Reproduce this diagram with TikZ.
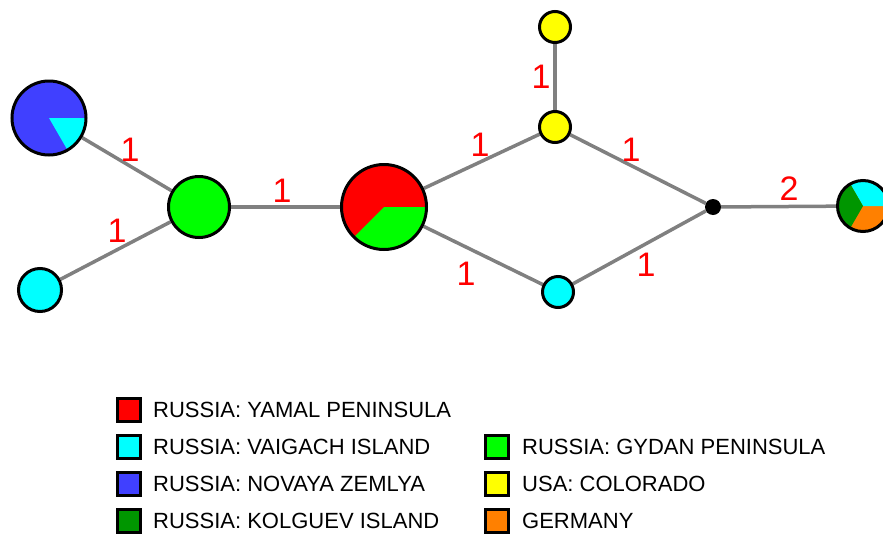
\documentclass[tikz,border=0pt]{standalone}
\usepackage{fontspec}
\setmainfont{Liberation Sans}
\usetikzlibrary{backgrounds}
\definecolor{cRed}{RGB}{255,0,0}
\definecolor{cCyan}{RGB}{0,255,255}
\definecolor{cBlue}{RGB}{64,64,255}
\definecolor{cGreen}{RGB}{0,255,0}
\definecolor{cDGreen}{RGB}{0,150,0}
\definecolor{cYellow}{RGB}{255,255,0}
\definecolor{cOrange}{RGB}{255,128,0}
\definecolor{cEdge}{RGB}{128,128,128}
\newcommand{\pieslice}[3]{\fill[#1] (path picture bounding box.center) -- ++(#2:80) arc[start angle=#2, end angle=#3, radius=80] -- cycle;}
\begin{document}
\begin{tikzpicture}[x=1pt,y=1pt,
  hap/.style={circle, draw=black, line width=3pt, inner sep=0pt},
  edge/.style={draw=cEdge, line width=3.5pt},
  lbl/.style={text=cRed, font=\fontsize{34}{34}\selectfont, inner sep=0pt},
  legbox/.style={draw=black, line width=3pt, minimum size=23pt, inner sep=0pt},
  legtext/.style={anchor=west, inner sep=0pt, font=\fontsize{22}{24}\selectfont}]
\useasboundingbox (0,0) rectangle (883,-533);
% haplotype nodes
\node[hap, fill=cBlue, minimum size=74pt, path picture={\pieslice{cCyan}{0}{-60}}] (nz) at (49,-118) {};
\node[hap, fill=cCyan, minimum size=43pt] (vb) at (40,-290) {};
\node[hap, fill=cGreen, minimum size=61pt] (gd) at (199,-207) {};
\node[hap, fill=cRed, minimum size=85pt, path picture={\pieslice{cGreen}{0}{-135}}] (ym) at (384,-207) {};
\node[hap, fill=cYellow, minimum size=31pt] (yt) at (555,-27) {};
\node[hap, fill=cYellow, minimum size=31pt] (ymid) at (555,-127) {};
\node[hap, fill=cCyan, minimum size=31pt] (cb) at (558,-292) {};
\node[circle, fill=black, minimum size=16pt, inner sep=0pt] (dot) at (713,-207) {};
\node[hap, fill=cOrange, minimum size=51pt, path picture={\pieslice{cCyan}{0}{120}\pieslice{cDGreen}{120}{240}}] (ge) at (863,-206) {};
% connectors
\begin{scope}[on background layer]
\draw[edge] (nz) -- (gd);
\draw[edge] (vb) -- (gd);
\draw[edge] (gd) -- (ym);
\draw[edge] (ym) -- (ymid);
\draw[edge] (ym) -- (cb);
\draw[edge] (yt) -- (ymid);
\draw[edge] (ymid) -- (dot);
\draw[edge] (cb) -- (dot);
\draw[edge] (dot) -- (ge);
\end{scope}
% edge labels
\node[lbl] (l1) at (130,-150) {1};
\node[lbl] (l2) at (117,-231) {1};
\node[lbl] (l3) at (282,-191) {1};
\node[lbl] (l4) at (480,-145) {1};
\node[lbl] (l5) at (466,-274) {1};
\node[lbl] (l6) at (541,-77) {1};
\node[lbl] (l7) at (631,-150) {1};
\node[lbl] (l8) at (646,-265) {1};
\node[lbl] (l9) at (789,-189) {2};
% legend
\node[legbox, fill=cRed] (k1) at (129,-410) {};
\node[legtext] (t1) at (153,-410) {RUSSIA: YAMAL PENINSULA};
\node[legbox, fill=cCyan] (k2) at (129,-447) {};
\node[legtext] (t2) at (153,-447) {RUSSIA: VAIGACH ISLAND};
\node[legbox, fill=cBlue] (k3) at (129,-484) {};
\node[legtext] (t3) at (153,-484) {RUSSIA: NOVAYA ZEMLYA};
\node[legbox, fill=cDGreen] (k4) at (129,-521) {};
\node[legtext] (t4) at (153,-521) {RUSSIA: KOLGUEV ISLAND};
\node[legbox, fill=cGreen] (k5) at (497,-447) {};
\node[legtext] (t5) at (522,-447) {RUSSIA: GYDAN PENINSULA};
\node[legbox, fill=cYellow] (k6) at (497,-484) {};
\node[legtext] (t6) at (522,-484) {USA: COLORADO};
\node[legbox, fill=cOrange] (k7) at (497,-521) {};
\node[legtext] (t7) at (522,-521) {GERMANY};
\end{tikzpicture}
\end{document}
